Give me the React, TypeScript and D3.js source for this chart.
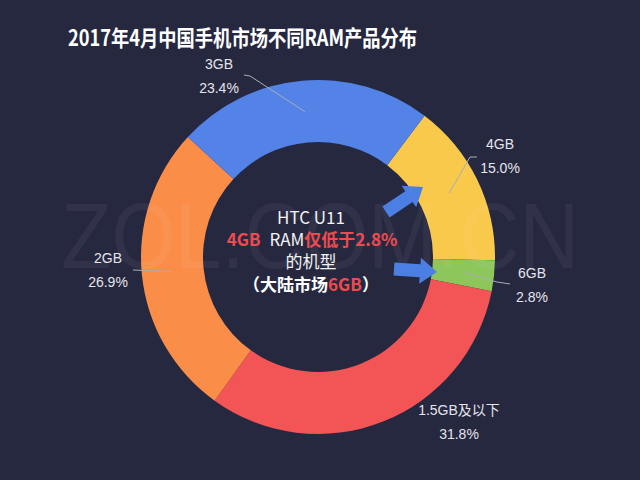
import React from 'react';
import * as d3 from 'd3';

const categories = ['4GB', '6GB', '1.5GB及以下', '2GB', '3GB'];
const shares = [15.0, 2.8, 31.8, 26.9, 23.4];
const colors = ['#f9c94b', '#8dc65b', '#f35455', '#fa8e49', '#5383e7'];

// where each outside label sits (label centre x, first baseline y), and the leader line's elbow/end
const labelAt = [
  { x: 500, y: 149, elbow: [470, 157], end: [477, 157] },
  { x: 532, y: 278, elbow: [497, 282], end: [510, 284] },
  { x: 459, y: 415, elbow: null, end: null },
  { x: 108, y: 263, elbow: [133, 270], end: [133, 270] },
  { x: 219, y: 69, elbow: [250, 76], end: [244, 75] },
];

const width = 640;
const height = 480;
const cx = 318;
const cy = 257;
const outerR = 177;
const innerR = 115;
const startDeg = 37;

const Arrow = ({ from, to }) => {
  const dx = to[0] - from[0];
  const dy = to[1] - from[1];
  const len = Math.hypot(dx, dy);
  const ux = dx / len, uy = dy / len;
  const nx = -uy, ny = ux;
  const body = 6.5, head = 13, headLen = 17;
  const bx = to[0] - ux * headLen, by = to[1] - uy * headLen;
  const pts = [
    [from[0] + nx * body, from[1] + ny * body],
    [bx + nx * body, by + ny * body],
    [bx + nx * head, by + ny * head],
    to,
    [bx - nx * head, by - ny * head],
    [bx - nx * body, by - ny * body],
    [from[0] - nx * body, from[1] - ny * body],
  ];
  return <polygon points={pts.map(p => p.join(',')).join(' ')} fill="#4b7fe3" />;
};

export default function App() {
  const data = categories.map((c, i) => ({ name: c, value: shares[i], color: colors[i] }));
  const start = (startDeg * Math.PI) / 180;
  const pie = d3.pie().value(d => d.value).sort(null).startAngle(start).endAngle(start + Math.PI * 2);
  const arcs = pie(data);
  const arc = d3.arc().innerRadius(innerR).outerRadius(outerR);
  const fmt = d3.format('.1f');
  const font = '"Liberation Sans", "Noto Sans CJK SC", sans-serif';
  const cjk = '"Noto Sans CJK SC", sans-serif';

  return (
    <svg width={width} height={height} style={{ position: 'absolute', left: 0, top: 0 }}>
      <rect width={width} height={height} fill="#262840" />
      <text x={68} y={46} fill="#ffffff" fontSize={22} fontWeight="bold" fontFamily={cjk}
        textLength={349} lengthAdjust="spacingAndGlyphs">2017年4月中国手机市场不同RAM产品分布</text>

      <g transform={`translate(${cx},${cy})`}>
        {arcs.map((a, i) => (
          <path key={i} d={arc(a)} fill={a.data.color} />
        ))}
      </g>

      <text x={320} y={268} fill="#ffffff" fillOpacity={0.05} fontSize={92} fontFamily='"Liberation Sans", sans-serif'
        textAnchor="middle" textLength={518} lengthAdjust="spacingAndGlyphs">ZOL.COM.CN</text>

      {arcs.map((a, i) => {
        const L = labelAt[i];
        const [px, py] = arc.centroid(a);
        return (
          <g key={'l' + i} fontFamily={font} fontSize={14} fill="#e4e4ea" textAnchor="middle">
            {L.elbow && (
              <polyline points={`${cx + px},${cy + py} ${L.elbow.join(',')} ${L.end.join(',')}`}
                fill="none" stroke="#a9adb8" strokeWidth={1} />
            )}
            <text x={L.x} y={L.y}>{a.data.name}</text>
            <text x={L.x} y={L.y + 24}>{fmt(a.data.value)}%</text>
          </g>
        );
      })}

      <Arrow from={[386, 212]} to={[423, 187]} />
      <Arrow from={[394, 269]} to={[437, 272]} />

      <g fontFamily={cjk} textAnchor="middle" fontSize={17}>
        <text x={311} y={224} fill="#f2f2f2">HTC U11</text>
        <text x={312} y={246} fill="#f2f2f2">
          <tspan fill="#f04a4f" fontWeight="bold">4GB</tspan>
          <tspan dx={9}>RAM</tspan>
          <tspan fill="#f04a4f" fontWeight="bold">仅低于2.8%</tspan>
        </text>
        <text x={311} y={268} fill="#f2f2f2">的机型</text>
        <text x={311} y={291} fill="#ffffff" fontWeight="bold">
          <tspan>（大陆市场</tspan>
          <tspan fill="#f04a4f">6GB</tspan>
          <tspan>）</tspan>
        </text>
      </g>
    </svg>
  );
}
